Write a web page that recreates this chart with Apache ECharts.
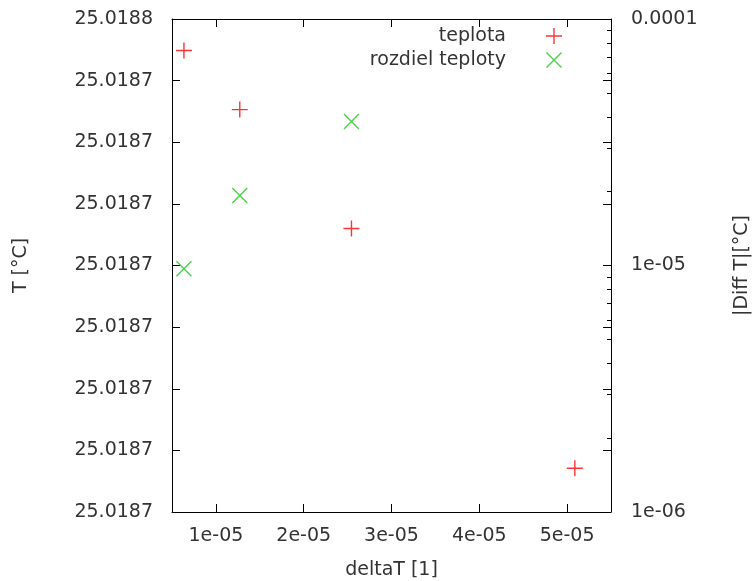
<!DOCTYPE html>
<html>
<head>
<meta charset="utf-8">
<script src="https://cdn.jsdelivr.net/npm/echarts@6/dist/echarts.min.js"></script>
<style>html,body{margin:0;padding:0;background:#fff;}#c{width:752px;height:581px;}</style>
</head>
<body>
<div id="c"></div>
<script>
// ---- data ----
const deltaT = [6.36e-6, 1.272e-5, 2.544e-5, 5.088e-5];
const teplota = [25.0187449, 25.0187353, 25.0187160, 25.0186771];
const rozdielTeploty = [9.69e-6, 1.923e-5, 3.84e-5];

const xMin = 5e-6, xMax = 5.5e-5;
const xTickValues = [1e-5, 2e-5, 3e-5, 4e-5, 5e-5];
const xTickLabels = ['1e-05', '2e-05', '3e-05', '4e-05', '5e-05'];

const tMin = 25.01867, tMax = 25.01875, tStep = 0.00001;
const tTickLabels = ['25.0187', '25.0187', '25.0187', '25.0187', '25.0187', '25.0187', '25.0187', '25.0187', '25.0188'];

const diffMin = 1e-6, diffMax = 1e-4;
const diffTickLabels = ['1e-06', '1e-05', '0.0001'];
const diffMinorTicks = [2e-6, 3e-6, 4e-6, 5e-6, 6e-6, 7e-6, 8e-6, 9e-6, 2e-5, 3e-5, 4e-5, 5e-5, 6e-5, 7e-5, 8e-5, 9e-5];

const seriesNames = ['teplota', 'rozdiel teploty'];

// ---- styling ----
const FONT = 'DejaVu Sans';
const TXT = '#333';
const LINE = '#000';
const plusPath = 'path://M7.3,0L8.7,0L8.7,16L7.3,16Z M0,7.3L16,7.3L16,8.7L0,8.7Z';
const crossPath = 'path://M0,1L1,0L16,15L15,16Z M15,0L16,1L1,16L0,15Z';

const chart = echarts.init(document.getElementById('c'), null, {renderer: 'canvas'});

const txt = {fontFamily: FONT, fontSize: 19, color: TXT};

chart.setOption({
  animation: false,
  backgroundColor: '#fff',
  textStyle: {fontFamily: FONT},
  grid: {left: 172, right: 141, top: 19, bottom: 69, containLabel: false, outerBoundsMode: 'none'},
  legend: {
    data: seriesNames,
    orient: 'vertical',
    right: 185,
    top: 21,
    align: 'right',
    itemWidth: 16,
    itemHeight: 16,
    itemGap: 4,
    selectedMode: false,
    textStyle: {fontFamily: FONT, fontSize: 19, color: TXT, padding: [0, 35, 0, 0], lineHeight: 20}
  },
  xAxis: [
    {
      type: 'value', min: xMin, max: xMax, position: 'bottom',
      axisLine: {show: true, onZero: false, lineStyle: {color: LINE, width: 1}},
      axisTick: {show: true, inside: true, length: 8, customValues: xTickValues, lineStyle: {color: LINE}},
      axisLabel: {show: true, customValues: xTickValues, margin: 15, ...txt,
        formatter: v => xTickLabels[Math.round(v / 1e-5) - 1]},
      splitLine: {show: false},
      name: 'deltaT [1]', nameLocation: 'middle', nameGap: 49,
      nameTextStyle: {...txt}
    },
    {
      type: 'value', min: xMin, max: xMax, position: 'top',
      axisLine: {show: true, onZero: false, lineStyle: {color: LINE, width: 1}},
      axisTick: {show: true, inside: true, length: 8, customValues: xTickValues, lineStyle: {color: LINE}},
      axisLabel: {show: false},
      splitLine: {show: false}
    }
  ],
  yAxis: [
    {
      type: 'value', min: tMin, max: tMax, interval: tStep, position: 'left',
      axisLine: {show: true, onZero: false, lineStyle: {color: LINE, width: 1}},
      axisTick: {show: true, inside: true, length: 8, lineStyle: {color: LINE}},
      axisLabel: {show: true, margin: 19, ...txt,
        formatter: v => tTickLabels[Math.round((v - tMin) / tStep)]},
      splitLine: {show: false},
      name: 'T [°C]', nameLocation: 'middle', nameRotate: 90, nameGap: 141,
      nameTextStyle: {...txt}
    },
    {
      type: 'log', logBase: 10, min: diffMin, max: diffMax, position: 'right',
      axisLine: {show: true, onZero: false, lineStyle: {color: LINE, width: 1}},
      axisTick: {show: true, inside: true, length: 8, lineStyle: {color: LINE}},
      axisLabel: {show: true, margin: 20, ...txt,
        formatter: v => diffTickLabels[Math.round(Math.log10(v)) + 6]},
      splitLine: {show: false},
      name: '|Diff T|[°C]', nameLocation: 'middle', nameRotate: 90, nameGap: 122,
      nameTextStyle: {...txt}
    },
    {
      type: 'value', min: Math.log10(diffMin), max: Math.log10(diffMax), position: 'right',
      axisLine: {show: false},
      axisTick: {show: true, inside: true, length: 4, customValues: diffMinorTicks.map(v => Math.log10(v)), lineStyle: {color: LINE}},
      axisLabel: {show: false},
      splitLine: {show: false}
    },
    {
      type: 'value', min: tMin, max: tMax, interval: tStep, position: 'right',
      axisLine: {show: false},
      axisTick: {show: true, inside: true, length: 8, lineStyle: {color: LINE}},
      axisLabel: {show: false},
      splitLine: {show: false}
    }
  ],
  series: [
    {
      name: seriesNames[0], type: 'scatter', xAxisIndex: 0, yAxisIndex: 0,
      symbol: plusPath, symbolSize: 16,
      itemStyle: {color: '#ff0000'},
      emphasis: {disabled: true},
      data: deltaT.map((x, i) => [x, teplota[i]])
    },
    {
      name: seriesNames[1], type: 'scatter', xAxisIndex: 0, yAxisIndex: 1,
      symbol: crossPath, symbolSize: 16,
      itemStyle: {color: '#22c322'},
      emphasis: {disabled: true},
      data: rozdielTeploty.map((d, i) => [deltaT[i], d])
    }
  ]
});
</script>
</body>
</html>
